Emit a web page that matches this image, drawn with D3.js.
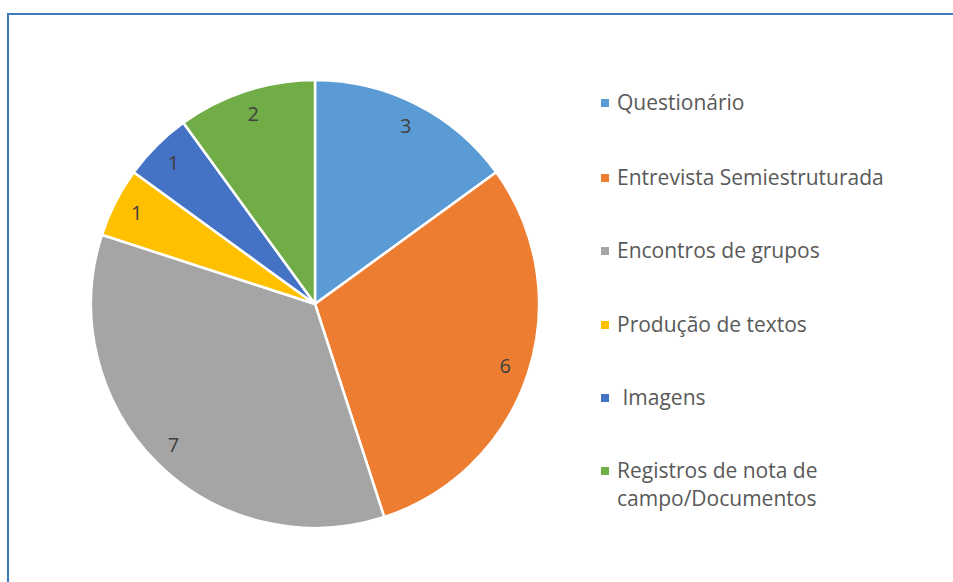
<!DOCTYPE html>
<html>
<head>
<meta charset="utf-8">
<script src="https://cdn.jsdelivr.net/npm/d3@7"></script>
<style>
  body { margin: 0; background: #fff; }
  text { font-family: "Open Sans", sans-serif; }
</style>
</head>
<body>
<script>
var categories = ["Questionário", "Entrevista Semiestruturada", "Encontros de grupos", "Produção de textos", " Imagens", "Registros de nota de campo/Documentos"];
var values = [3, 6, 7, 1, 1, 2];
var colors = ["#5B9BD5", "#ED7D31", "#A5A5A5", "#FFC000", "#4472C4", "#70AD47"];

var width = 953, height = 582;

var svg = d3.select("body").append("svg")
    .attr("width", width)
    .attr("height", height);

// chart frame (only top and left edges visible)
svg.append("line").attr("x1", 8).attr("y1", 14).attr("x2", width).attr("y2", 14)
    .style("stroke", "#3B7BBE").style("stroke-width", 2);
svg.append("line").attr("x1", 8).attr("y1", 13).attr("x2", 8).attr("y2", height)
    .style("stroke", "#3B7BBE").style("stroke-width", 2);

var cx = 315, cy = 304, radius = 224;

var data = categories.map(function(c, i) { return {name: c, value: values[i], color: colors[i]}; });

var pie = d3.pie().sort(null).value(function(d) { return d.value; });
var arc = d3.arc().innerRadius(0).outerRadius(radius);
var labelArc = d3.arc().innerRadius(200).outerRadius(200);

var g = svg.append("g").attr("transform", "translate(" + cx + "," + cy + ")");

g.selectAll("path")
    .data(pie(data))
    .enter()
    .append("path")
    .attr("d", arc)
    .style("fill", function(d) { return d.data.color; })
    .style("stroke", "#fff")
    .style("stroke-width", 2.5)
    .style("stroke-linejoin", "round");

g.selectAll("text.lbl")
    .data(pie(data))
    .enter()
    .append("text")
    .attr("class", "lbl")
    .attr("transform", function(d) { return "translate(" + labelArc.centroid(d) + ")"; })
    .attr("text-anchor", "middle")
    .attr("dy", "0.35em")
    .style("font-size", "20px")
    .style("fill", "#404040")
    .text(function(d) { return d.data.value; });

// legend
var legendY = [103, 178, 251, 325, 398, 471];
var legend = svg.append("g");
data.forEach(function(d, i) {
    var row = legend.append("g").attr("transform", "translate(601," + legendY[i] + ")");
    row.append("rect").attr("x", 0).attr("y", -4).attr("width", 8).attr("height", 8)
        .style("fill", d.color);
    var t = row.append("text").attr("x", 16).attr("dy", "0.35em")
        .style("font-size", "21px").style("fill", "#595959")
        .attr("xml:space", "preserve");
    if (i === 5) {
        t.append("tspan").attr("x", 16).text("Registros de nota de");
        t.append("tspan").attr("x", 16).attr("dy", "28").text("campo/Documentos");
    } else {
        t.text(d.name);
    }
});
</script>
</body>
</html>
